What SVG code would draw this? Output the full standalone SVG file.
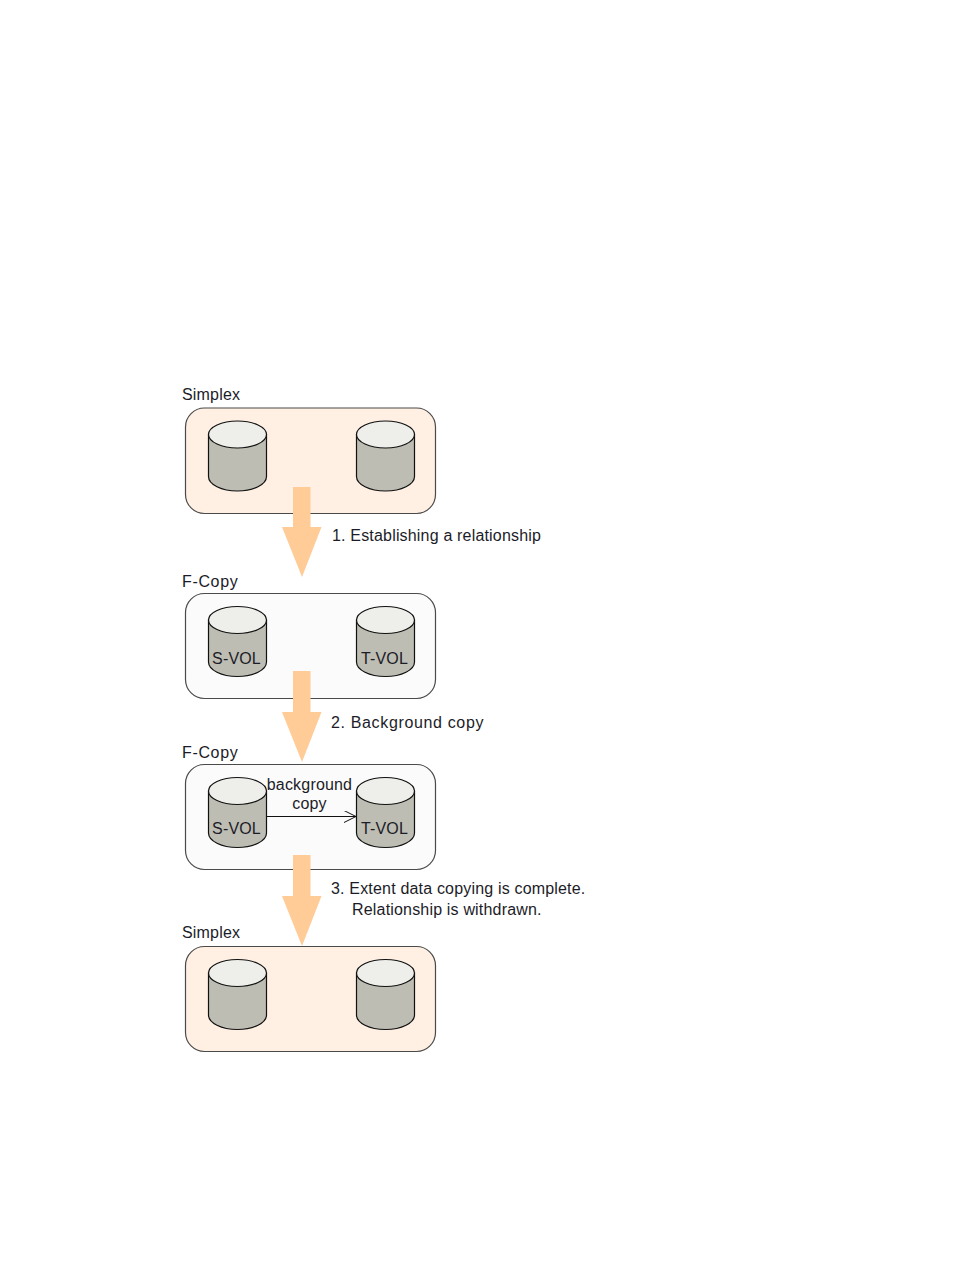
<svg xmlns="http://www.w3.org/2000/svg" width="954" height="1270" viewBox="0 0 954 1270">
<style>
text{font-family:"Liberation Sans",Arial,sans-serif;font-size:16px;letter-spacing:.18px;fill:#1c1c28}
.wide{letter-spacing:.65px}
.box{stroke:#4a4a4a;stroke-width:1.2}
.warm{fill:#fff0e3}
.cool{fill:#fbfbfb}
.body{fill:#bdbdb3;stroke:#111;stroke-width:1.2}
.top{fill:#eeefea;stroke:#111;stroke-width:1.2}
.big{fill:#ffcb96}
</style>
<defs>
<g id="cyl">
<path class="body" d="M0 14V56C0 64 13 70.500 29 70.500S58 64 58 56V14Z"/>
<ellipse class="top" cx="29" cy="14" rx="29" ry="13.500"/>
</g>
<marker id="open" markerWidth="14" markerHeight="14" refX="13" refY="6" orient="auto" markerUnits="userSpaceOnUse">
<path d="M1 0L13 6L1 12" fill="none" stroke="#111" stroke-width="1"/>
</marker>
</defs>
<rect width="954" height="1270" fill="#fff"/>
<g id="state1">
<text x="182" y="400">Simplex</text>
<rect class="box warm" x="185.500" y="408" width="250" height="105.500" rx="19"/>
<use href="#cyl" x="208.500" y="420.500"/><use href="#cyl" x="356.500" y="420.500"/>
</g>
<g id="state2">
<text class="wide" x="182" y="586.500">F-Copy</text>
<rect class="box cool" x="185.500" y="593.500" width="250" height="105" rx="19"/>
<use href="#cyl" x="208.500" y="606"/><use href="#cyl" x="356.500" y="606"/>
<text x="236.500" y="663.500" text-anchor="middle">S-VOL</text>
<text x="384.500" y="663.500" text-anchor="middle">T-VOL</text>
</g>
<g id="state3">
<text class="wide" x="182" y="757.500">F-Copy</text>
<rect class="box cool" x="185.500" y="764.500" width="250" height="105" rx="19"/>
<use href="#cyl" x="208.500" y="777"/><use href="#cyl" x="356.500" y="777"/>
<text x="236.500" y="834" text-anchor="middle">S-VOL</text>
<text x="384.500" y="834" text-anchor="middle">T-VOL</text>
<text x="309.500" y="790" text-anchor="middle">background</text>
<text x="309.500" y="808.500" text-anchor="middle">copy</text>
</g>
<g id="state4">
<text x="182" y="937.500">Simplex</text>
<rect class="box warm" x="185.500" y="946.500" width="250" height="105" rx="19"/>
<use href="#cyl" x="208.500" y="959"/><use href="#cyl" x="356.500" y="959"/>
</g>
<g id="connectors">
<path class="big" d="M293 487H310.500V527H321.500L302 577L282 527H293Z"/>
<path class="big" d="M293 671H310.500V712H321.500L302 762L282 712H293Z"/>
<path class="big" d="M293 855H310.500V896H321.500L302 946L282 896H293Z"/>
<line x1="266" y1="816.500" x2="356" y2="816.500" stroke="#111" stroke-width="1" marker-end="url(#open)"/>
</g>
<g id="labels">
<text x="332" y="541">1. Establishing a relationship</text>
<text class="wide" x="331" y="727.500">2. Background copy</text>
<text x="331" y="893.500">3. Extent data copying is complete.</text>
<text x="352" y="914.500">Relationship is withdrawn.</text>
</g>
</svg>
